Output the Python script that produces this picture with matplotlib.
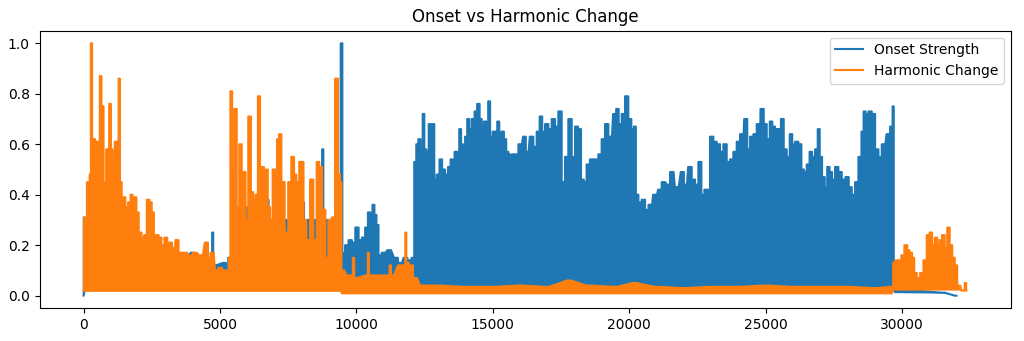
import numpy as np
import matplotlib.pyplot as plt

# Upper / lower envelopes of each curve as (frame, value) vertices
onset_top = [
    (0, 0.0), (10, 0.31), (80, 0.18), (3000, 0.18), (3350, 0.17), (3500, 0.13),
    (4000, 0.17), (4300, 0.14), (4600, 0.13), (4690, 0.13), (4730, 0.25),
    (4770, 0.12), (5185, 0.13), (5246, 0.06), (5350, 0.15), (5500, 0.30),
    (5940, 0.30), (5980, 0.35), (6020, 0.30), (6720, 0.30), (6761, 0.38),
    (6800, 0.30), (8010, 0.30), (8055, 0.37), (8100, 0.30), (8720, 0.30),
    (8766, 0.58), (8810, 0.30), (9400, 0.30), (9450, 1.00), (9520, 0.17),
    (9650, 0.20), (9770, 0.22), (9900, 0.21), (10020, 0.27), (10140, 0.22),
    (10260, 0.23), (10380, 0.27), (10465, 0.33), (10560, 0.29), (10620, 0.36),
    (10700, 0.32), (10770, 0.28), (10850, 0.16), (11000, 0.17), (11200, 0.18),
    (11450, 0.15), (11600, 0.13), (11800, 0.15), (11950, 0.14), (12090, 0.15),
    (12150, 0.53), (12240, 0.60), (12300, 0.62), (12400, 0.58), (12460, 0.72),
    (12520, 0.58), (12600, 0.57), (12700, 0.68), (12760, 0.56), (12825, 0.68),
    (12885, 0.46), (13000, 0.48), (13093, 0.54), (13190, 0.50), (13310, 0.48),
    (13410, 0.51), (13497, 0.54), (13560, 0.48), (13640, 0.57), (13740, 0.57),
    (13800, 0.66), (13875, 0.60), (13950, 0.59), (14020, 0.63), (14107, 0.70),
    (14170, 0.66), (14290, 0.70), (14376, 0.73), (14474, 0.76), (14560, 0.70),
    (14630, 0.67), (14720, 0.69), (14800, 0.65), (14865, 0.77), (14940, 0.63),
    (15050, 0.65), (15120, 0.65), (15207, 0.69), (15270, 0.64), (15365, 0.65),
    (15450, 0.62), (15535, 0.57), (15610, 0.56), (15635, 0.52), (15760, 0.56),
    (15880, 0.56), (16000, 0.60), (16180, 0.63), (16243, 0.57), (16427, 0.63),
    (16550, 0.59), (16670, 0.65), (16769, 0.71), (16855, 0.65), (16977, 0.68),
    (17100, 0.66), (17221, 0.70), (17343, 0.67), (17465, 0.73), (17588, 0.45),
    (17710, 0.55), (17832, 0.70), (17955, 0.55), (18076, 0.67), (18175, 0.66),
    (18296, 0.46), (18380, 0.45), (18500, 0.52), (18625, 0.54), (18810, 0.54),
    (18930, 0.56), (19054, 0.62), (19176, 0.68), (19300, 0.63), (19482, 0.72),
    (19567, 0.74), (19665, 0.68), (19790, 0.72), (19909, 0.79), (20030, 0.70),
    (20130, 0.66), (20216, 0.67), (20277, 0.40), (20400, 0.37), (20522, 0.38),
    (20645, 0.34), (20770, 0.36), (20950, 0.40), (21130, 0.42), (21255, 0.45),
    (21440, 0.44), (21560, 0.49), (21745, 0.43), (21964, 0.49), (22050, 0.44),
    (22233, 0.51), (22355, 0.46), (22477, 0.44), (22599, 0.53), (22697, 0.40),
    (22820, 0.42), (22905, 0.42), (23027, 0.63), (23150, 0.61), (23272, 0.60),
    (23394, 0.57), (23516, 0.60), (23638, 0.53), (23760, 0.54), (23882, 0.57),
    (24005, 0.61), (24127, 0.64), (24287, 0.70), (24372, 0.58), (24495, 0.63),
    (24617, 0.64), (24740, 0.68), (24886, 0.74), (24983, 0.68), (25106, 0.62),
    (25204, 0.69), (25290, 0.67), (25411, 0.66), (25510, 0.66), (25619, 0.70),
    (25717, 0.58), (25840, 0.55), (25937, 0.64), (26022, 0.60), (26145, 0.61),
    (26267, 0.60), (26364, 0.50), (26450, 0.49), (26572, 0.52), (26658, 0.57),
    (26755, 0.55), (26878, 0.58), (26951, 0.66), (27024, 0.55), (27122, 0.47),
    (27220, 0.43), (27305, 0.51), (27390, 0.49), (27489, 0.46), (27611, 0.51),
    (27733, 0.49), (27855, 0.46), (28002, 0.47), (28100, 0.43), (28223, 0.40),
    (28345, 0.45), (28468, 0.55), (28565, 0.65), (28626, 0.73), (28712, 0.72),
    (28834, 0.73), (28956, 0.72), (29079, 0.58), (29200, 0.55), (29323, 0.60),
    (29506, 0.64), (29628, 0.67), (29690, 0.75), (29714, 0.02), (30500, 0.02),
    (31500, 0.012), (32000, 0.0),
]
onset_low = [
    (32000, 0.0), (31500, 0.008), (29714, 0.01), (29700, 0.02), (12150, 0.02),
    (12100, 0.06), (9520, 0.06), (9450, 0.02), (100, 0.02), (0, 0.0),
]

harmonic_top = [
    (0, 0.02), (20, 0.31), (100, 0.25), (140, 0.45), (200, 0.40), (240, 0.48),
    (290, 1.00), (330, 0.50), (390, 0.62), (450, 0.55), (500, 0.61), (560, 0.45),
    (625, 0.87), (680, 0.55), (700, 0.75), (760, 0.27), (800, 0.45), (850, 0.58),
    (900, 0.50), (970, 0.76), (1030, 0.58), (1090, 0.54), (1190, 0.61),
    (1260, 0.50), (1300, 0.86), (1360, 0.45), (1430, 0.24), (1480, 0.39),
    (1580, 0.35), (1680, 0.37), (1760, 0.40), (1820, 0.36), (1900, 0.39),
    (1970, 0.33), (2070, 0.25), (2170, 0.23), (2260, 0.24), (2370, 0.38),
    (2460, 0.37), (2530, 0.33), (2620, 0.24), (2700, 0.24), (2800, 0.23),
    (2900, 0.20), (3020, 0.23), (3110, 0.21), (3190, 0.21), (3290, 0.19),
    (3430, 0.22), (3530, 0.17), (3720, 0.17), (3900, 0.16), (4080, 0.17),
    (4300, 0.16), (4513, 0.21), (4600, 0.15), (4700, 0.17), (4880, 0.10),
    (5000, 0.11), (5185, 0.10), (5300, 0.08), (5344, 0.15), (5417, 0.81),
    (5470, 0.48), (5576, 0.74), (5650, 0.35), (5760, 0.60), (5830, 0.45),
    (5894, 0.49), (5980, 0.30), (6090, 0.71), (6175, 0.41), (6260, 0.38),
    (6345, 0.40), (6432, 0.79), (6500, 0.40), (6566, 0.51), (6650, 0.30),
    (6713, 0.50), (6790, 0.35), (6880, 0.30), (6981, 0.50), (7050, 0.48),
    (7128, 0.62), (7201, 0.64), (7300, 0.45), (7440, 0.25), (7560, 0.45),
    (7666, 0.55), (7760, 0.48), (7837, 0.45), (7971, 0.53), (8030, 0.53),
    (8090, 0.30), (8240, 0.22), (8362, 0.46), (8480, 0.22), (8607, 0.53),
    (8670, 0.51), (8815, 0.34), (8910, 0.15), (9035, 0.30), (9157, 0.31),
    (9279, 0.86), (9376, 0.48), (9420, 0.45), (9480, 0.10), (9700, 0.08),
    (9850, 0.08), (9890, 0.15), (9950, 0.07), (10400, 0.08), (10440, 0.17),
    (10480, 0.08), (11200, 0.08), (11235, 0.12), (11300, 0.08), (11600, 0.12),
    (11770, 0.12), (11810, 0.25), (11850, 0.13), (12000, 0.12), (12150, 0.07),
    (12400, 0.04), (13000, 0.04), (14000, 0.035), (15000, 0.035), (16000, 0.04),
    (17000, 0.035), (17800, 0.06), (18500, 0.04), (19500, 0.035), (20200, 0.05),
    (21000, 0.035), (22000, 0.03), (23000, 0.035), (24000, 0.035), (25000, 0.04),
    (26000, 0.035), (27000, 0.035), (28000, 0.035), (29000, 0.03), (29650, 0.035),
    (29714, 0.13), (29812, 0.14), (29930, 0.14), (30030, 0.16), (30154, 0.20),
    (30240, 0.18), (30325, 0.17), (30420, 0.15), (30484, 0.09), (30606, 0.07),
    (30730, 0.09), (30850, 0.14), (30973, 0.24), (31058, 0.25), (31150, 0.20),
    (31254, 0.23), (31340, 0.20), (31420, 0.22), (31523, 0.24), (31620, 0.19),
    (31706, 0.27), (31800, 0.20), (31890, 0.15), (31987, 0.12), (32070, 0.04),
    (32250, 0.02), (32353, 0.05), (32360, 0.02),
]
harmonic_low = [
    (32360, 0.02), (29714, 0.02), (29650, 0.005), (9450, 0.005), (9400, 0.015),
    (0, 0.015),
]


def skyline(pts, half=70):
    # hold each envelope value over a narrow slot so peaks keep flat, thin tops
    pts = np.asarray(pts, dtype=float)
    x, y = pts[:, 0], pts[:, 1]
    gap = np.diff(x) / 2
    lw = np.minimum(np.concatenate([[0], gap]), half)
    rw = np.minimum(np.concatenate([gap, [0]]), half)
    sx = np.column_stack([x - lw, x + rw]).ravel()
    sy = np.repeat(y, 2)
    return sx, sy


fig = plt.figure(figsize=(10.24, 3.41), dpi=100)
ax = fig.add_axes([0.0386, 0.096, 0.9487, 0.814])

z = 1
for top, low, label, color in [
    (onset_top, onset_low, "Onset Strength", "C0"),
    (harmonic_top, harmonic_low, "Harmonic Change", "C1"),
]:
    tx, ty = skyline(top)
    low = np.array(low)
    ax.fill(np.concatenate([tx, low[:, 0]]), np.concatenate([ty, low[:, 1]]),
            color=color, linewidth=0, zorder=z)
    ax.plot(tx, ty, color=color, linewidth=1.5, label=label, zorder=z + 1)
    z += 2

ax.set_xlim(-1618, 34000)
ax.set_ylim(-0.05, 1.05)
ax.set_title("Onset vs Harmonic Change")
ax.legend(loc="upper right")

plt.savefig("out.png", dpi=100)
